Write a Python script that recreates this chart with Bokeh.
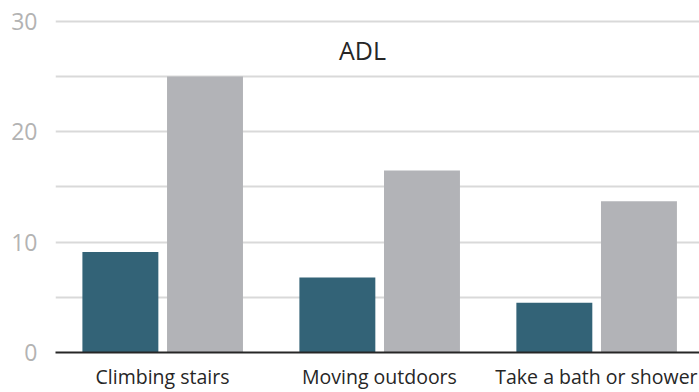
from bokeh.plotting import figure
from bokeh.models import ColumnDataSource, Range1d, FixedTicker, Label
from bokeh.transform import dodge
from bokeh.embed import file_html
from bokeh.resources import INLINE

# ADL difficulty, two groups per activity
activities = ["Climbing stairs", "Moving outdoors", "Take a bath or shower"]
group_a = [9.1, 6.8, 4.5]
group_b = [25.0, 16.5, 13.7]

y_tick_labels = [0, 10, 20, 30]
grid_steps = [0, 5, 10, 15, 20, 25, 30]

TEAL = "#336377"
GREY = "#b2b3b7"
FONT = "Open Sans"

idx = list(range(len(activities)))
src = ColumnDataSource(dict(idx=idx, a=group_a, b=group_b))

p = figure(
    width=699, height=392,
    output_backend="svg", toolbar_location=None,
    x_range=Range1d(-0.493, 2.475), y_range=Range1d(0, 30.99),
    min_border_left=55, min_border_right=0,
    min_border_top=10, min_border_bottom=37,
    outline_line_color=None, background_fill_color="white",
    border_fill_color="white",
)

bar_w = 0.35
p.vbar(x=dodge("idx", -0.194, range=p.x_range), top="a", width=bar_w,
       bottom=0, source=src, fill_color=TEAL, line_color=None)
p.vbar(x=dodge("idx", 0.196, range=p.x_range), top="b", width=bar_w,
       bottom=0, source=src, fill_color=GREY, line_color=None)

# x axis: activity names under each pair of bars
p.xaxis.ticker = FixedTicker(ticks=idx)
p.xaxis.major_label_overrides = {i: name for i, name in zip(idx, activities)}
p.xaxis.axis_line_color = "#262626"
p.xaxis.axis_line_width = 2
p.xaxis.major_tick_line_color = None
p.xaxis.minor_tick_line_color = None
p.xaxis.major_label_text_font = FONT
p.xaxis.major_label_text_font_size = "19.5px"
p.xaxis.major_label_text_color = "#262626"
p.xaxis.major_label_standoff = 4
p.xgrid.grid_line_color = None

# y axis: light labels, no line or ticks
p.yaxis.ticker = FixedTicker(ticks=y_tick_labels)
p.yaxis.axis_line_color = None
p.yaxis.major_tick_line_color = None
p.yaxis.minor_tick_line_color = None
p.yaxis.major_label_text_font = FONT
p.yaxis.major_label_text_font_size = "23px"
p.yaxis.major_label_text_color = "#b3b3b3"
p.yaxis.major_label_standoff = 12
p.ygrid.ticker = FixedTicker(ticks=grid_steps)
p.ygrid.grid_line_color = "#d9d9d9"
p.ygrid.grid_line_width = 2

title = Label(x=0.922, y=27.4, text="ADL", text_align="center",
              text_baseline="middle", text_font=FONT,
              text_font_size="25px", text_color="#262626")
p.add_layout(title)

open("out.html", "w").write(file_html(p, INLINE))
